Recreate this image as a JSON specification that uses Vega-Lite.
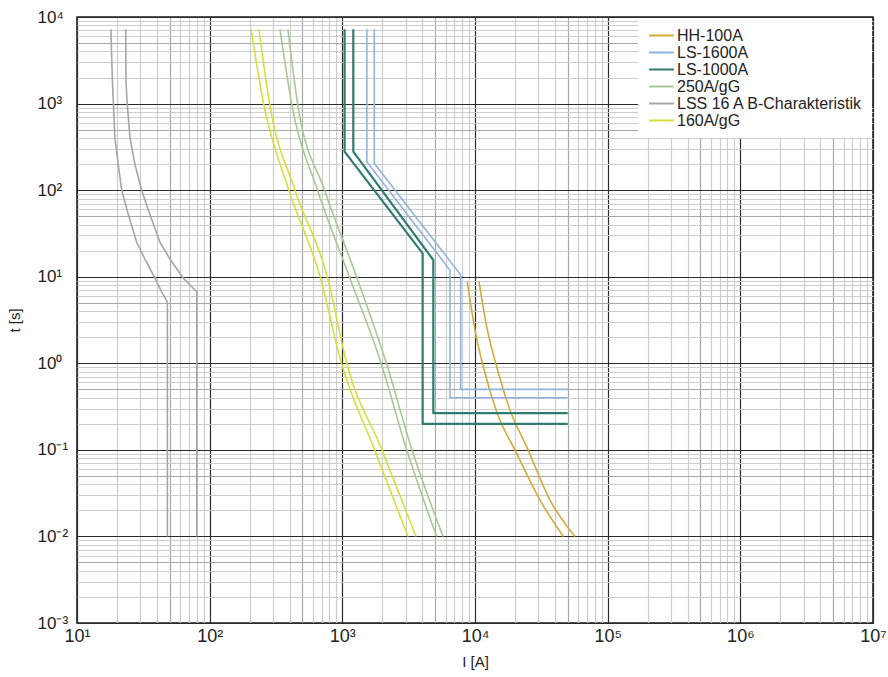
{
  "$schema": "https://vega.github.io/schema/vega-lite/v6.json",
  "width": 796,
  "height": 606,
  "autosize": {"type": "none"},
  "padding": {"left": 77, "top": 17, "right": 15, "bottom": 54},
  "background": "white",
  "config": {
    "view": {"stroke": "#1a1a1a", "strokeWidth": 1.5},
    "font": "Liberation Sans, Arial, sans-serif"
  },
  "data": {
    "values": [
      {"series": "HH-100A", "curve": "HH-a", "k": 1, "I": 8750, "t": 8.76},
      {"series": "HH-100A", "curve": "HH-a", "k": 2, "I": 10000, "t": 2.42},
      {"series": "HH-100A", "curve": "HH-a", "k": 3, "I": 11550, "t": 0.913},
      {"series": "HH-100A", "curve": "HH-a", "k": 4, "I": 14570, "t": 0.276},
      {"series": "HH-100A", "curve": "HH-a", "k": 5, "I": 20620, "t": 0.0912},
      {"series": "HH-100A", "curve": "HH-a", "k": 6, "I": 30900, "t": 0.0263},
      {"series": "HH-100A", "curve": "HH-a", "k": 7, "I": 46300, "t": 0.01},
      {"series": "HH-100A", "curve": "HH-b", "k": 1, "I": 10720, "t": 8.76},
      {"series": "HH-100A", "curve": "HH-b", "k": 2, "I": 12250, "t": 2.645},
      {"series": "HH-100A", "curve": "HH-b", "k": 3, "I": 14570, "t": 0.913},
      {"series": "HH-100A", "curve": "HH-b", "k": 4, "I": 18350, "t": 0.289},
      {"series": "HH-100A", "curve": "HH-b", "k": 5, "I": 24520, "t": 0.109},
      {"series": "HH-100A", "curve": "HH-b", "k": 6, "I": 36750, "t": 0.0263},
      {"series": "HH-100A", "curve": "HH-b", "k": 7, "I": 56700, "t": 0.01},

      {"series": "LS-1600A", "curve": "LS16-a", "k": 1, "I": 1530, "t": 7200},
      {"series": "LS-1600A", "curve": "LS16-a", "k": 2, "I": 1530, "t": 213},
      {"series": "LS-1600A", "curve": "LS16-a", "k": 3, "I": 6480, "t": 11.9},
      {"series": "LS-1600A", "curve": "LS16-a", "k": 4, "I": 6480, "t": 0.4},
      {"series": "LS-1600A", "curve": "LS16-a", "k": 5, "I": 50000, "t": 0.4},
      {"series": "LS-1600A", "curve": "LS16-b", "k": 1, "I": 1740, "t": 7200},
      {"series": "LS-1600A", "curve": "LS16-b", "k": 2, "I": 1740, "t": 204},
      {"series": "LS-1600A", "curve": "LS16-b", "k": 3, "I": 7800, "t": 10.5},
      {"series": "LS-1600A", "curve": "LS16-b", "k": 4, "I": 7800, "t": 0.5},
      {"series": "LS-1600A", "curve": "LS16-b", "k": 5, "I": 50000, "t": 0.5},

      {"series": "LS-1000A", "curve": "LS10-a", "k": 1, "I": 1040, "t": 7200},
      {"series": "LS-1000A", "curve": "LS10-a", "k": 2, "I": 1040, "t": 278},
      {"series": "LS-1000A", "curve": "LS10-a", "k": 3, "I": 4030, "t": 18.6},
      {"series": "LS-1000A", "curve": "LS10-a", "k": 4, "I": 4030, "t": 0.2},
      {"series": "LS-1000A", "curve": "LS10-a", "k": 5, "I": 50000, "t": 0.2},
      {"series": "LS-1000A", "curve": "LS10-b", "k": 1, "I": 1210, "t": 7200},
      {"series": "LS-1000A", "curve": "LS10-b", "k": 2, "I": 1210, "t": 278},
      {"series": "LS-1000A", "curve": "LS10-b", "k": 3, "I": 4850, "t": 15.6},
      {"series": "LS-1000A", "curve": "LS10-b", "k": 4, "I": 4850, "t": 0.265},
      {"series": "LS-1000A", "curve": "LS10-b", "k": 5, "I": 50000, "t": 0.265},

      {"series": "250A/gG", "curve": "G250-a", "k": 1, "I": 339, "t": 7200},
      {"series": "250A/gG", "curve": "G250-a", "k": 2, "I": 415, "t": 1000},
      {"series": "250A/gG", "curve": "G250-a", "k": 3, "I": 650, "t": 100},
      {"series": "250A/gG", "curve": "G250-a", "k": 4, "I": 1130, "t": 10},
      {"series": "250A/gG", "curve": "G250-a", "k": 5, "I": 1960, "t": 1},
      {"series": "250A/gG", "curve": "G250-a", "k": 6, "I": 3055, "t": 0.1},
      {"series": "250A/gG", "curve": "G250-a", "k": 7, "I": 5140, "t": 0.01},
      {"series": "250A/gG", "curve": "G250-b", "k": 1, "I": 389, "t": 7200},
      {"series": "250A/gG", "curve": "G250-b", "k": 2, "I": 460, "t": 1000},
      {"series": "250A/gG", "curve": "G250-b", "k": 3, "I": 735, "t": 100},
      {"series": "250A/gG", "curve": "G250-b", "k": 4, "I": 1280, "t": 10},
      {"series": "250A/gG", "curve": "G250-b", "k": 5, "I": 2150, "t": 1},
      {"series": "250A/gG", "curve": "G250-b", "k": 6, "I": 3350, "t": 0.1},
      {"series": "250A/gG", "curve": "G250-b", "k": 7, "I": 5740, "t": 0.01},

      {"series": "LSS 16 A B-Charakteristik", "curve": "LSS-a", "k": 1, "I": 18.0, "t": 7200},
      {"series": "LSS 16 A B-Charakteristik", "curve": "LSS-a", "k": 2, "I": 18.5, "t": 1790},
      {"series": "LSS 16 A B-Charakteristik", "curve": "LSS-a", "k": 3, "I": 18.8, "t": 1000},
      {"series": "LSS 16 A B-Charakteristik", "curve": "LSS-a", "k": 4, "I": 19.3, "t": 400},
      {"series": "LSS 16 A B-Charakteristik", "curve": "LSS-a", "k": 5, "I": 20.5, "t": 195},
      {"series": "LSS 16 A B-Charakteristik", "curve": "LSS-a", "k": 6, "I": 21.7, "t": 100},
      {"series": "LSS 16 A B-Charakteristik", "curve": "LSS-a", "k": 7, "I": 24.4, "t": 52},
      {"series": "LSS 16 A B-Charakteristik", "curve": "LSS-a", "k": 8, "I": 28.2, "t": 25},
      {"series": "LSS 16 A B-Charakteristik", "curve": "LSS-a", "k": 9, "I": 32.5, "t": 16},
      {"series": "LSS 16 A B-Charakteristik", "curve": "LSS-a", "k": 10, "I": 37.6, "t": 10.5},
      {"series": "LSS 16 A B-Charakteristik", "curve": "LSS-a", "k": 11, "I": 43.5, "t": 6.7},
      {"series": "LSS 16 A B-Charakteristik", "curve": "LSS-a", "k": 12, "I": 48, "t": 5.1},
      {"series": "LSS 16 A B-Charakteristik", "curve": "LSS-a", "k": 13, "I": 48, "t": 0.01},
      {"series": "LSS 16 A B-Charakteristik", "curve": "LSS-b", "k": 1, "I": 23.3, "t": 7200},
      {"series": "LSS 16 A B-Charakteristik", "curve": "LSS-b", "k": 2, "I": 23.4, "t": 1790},
      {"series": "LSS 16 A B-Charakteristik", "curve": "LSS-b", "k": 3, "I": 23.9, "t": 1000},
      {"series": "LSS 16 A B-Charakteristik", "curve": "LSS-b", "k": 4, "I": 25.1, "t": 400},
      {"series": "LSS 16 A B-Charakteristik", "curve": "LSS-b", "k": 5, "I": 27.4, "t": 195},
      {"series": "LSS 16 A B-Charakteristik", "curve": "LSS-b", "k": 6, "I": 30.7, "t": 100},
      {"series": "LSS 16 A B-Charakteristik", "curve": "LSS-b", "k": 7, "I": 35.5, "t": 52},
      {"series": "LSS 16 A B-Charakteristik", "curve": "LSS-b", "k": 8, "I": 42.2, "t": 25},
      {"series": "LSS 16 A B-Charakteristik", "curve": "LSS-b", "k": 9, "I": 50.2, "t": 16},
      {"series": "LSS 16 A B-Charakteristik", "curve": "LSS-b", "k": 10, "I": 63.3, "t": 9.6},
      {"series": "LSS 16 A B-Charakteristik", "curve": "LSS-b", "k": 11, "I": 80, "t": 6.7},
      {"series": "LSS 16 A B-Charakteristik", "curve": "LSS-b", "k": 12, "I": 80, "t": 0.01},

      {"series": "160A/gG", "curve": "G160-a", "k": 1, "I": 205, "t": 7200},
      {"series": "160A/gG", "curve": "G160-a", "k": 2, "I": 255, "t": 1000},
      {"series": "160A/gG", "curve": "G160-a", "k": 3, "I": 395, "t": 100},
      {"series": "160A/gG", "curve": "G160-a", "k": 4, "I": 680, "t": 10},
      {"series": "160A/gG", "curve": "G160-a", "k": 5, "I": 985, "t": 1},
      {"series": "160A/gG", "curve": "G160-a", "k": 6, "I": 1750, "t": 0.1},
      {"series": "160A/gG", "curve": "G160-a", "k": 7, "I": 3125, "t": 0.01},
      {"series": "160A/gG", "curve": "G160-b", "k": 1, "I": 235, "t": 7200},
      {"series": "160A/gG", "curve": "G160-b", "k": 2, "I": 283, "t": 1000},
      {"series": "160A/gG", "curve": "G160-b", "k": 3, "I": 440, "t": 100},
      {"series": "160A/gG", "curve": "G160-b", "k": 4, "I": 770, "t": 10},
      {"series": "160A/gG", "curve": "G160-b", "k": 5, "I": 1080, "t": 1},
      {"series": "160A/gG", "curve": "G160-b", "k": 6, "I": 1991, "t": 0.1},
      {"series": "160A/gG", "curve": "G160-b", "k": 7, "I": 3592, "t": 0.01}
    ]
  },
  "encoding": {
    "x": {
      "field": "I",
      "type": "quantitative",
      "scale": {"type": "log", "domain": [10, 10000000], "nice": false},
      "axis": {
        "title": "I [A]",
        "values": [10,20,30,40,50,60,70,80,90,100,200,300,400,500,600,700,800,900,1000,2000,3000,4000,5000,6000,7000,8000,9000,10000,20000,30000,40000,50000,60000,70000,80000,90000,100000,200000,300000,400000,500000,600000,700000,800000,900000,1000000,2000000,3000000,4000000,5000000,6000000,7000000,8000000,9000000,10000000],
        "grid": true,
        "gridColor": {"condition": [
          {"test": "abs(log(datum.value)/LN10 - round(log(datum.value)/LN10)) < 0.001", "value": "#2a2a2a"},
          {"test": "abs(log(datum.value)/LN10 - floor(log(datum.value)/LN10 + 0.000001) - 0.69897) < 0.001", "value": "#a8a8a8"}
        ], "value": "#cdcdcd"},
        "gridWidth": 1.2,
        "ticks": false,
        "domain": false,
        "labelOverlap": false,
        "labelFlush": false,
        "labelExpr": "abs(log(datum.value)/LN10 - round(log(datum.value)/LN10)) < 0.001 ? '10' + (round(log(datum.value)/LN10) < 0 ? '⁻' : '') + substring('⁰¹²³⁴⁵⁶⁷⁸⁹', abs(round(log(datum.value)/LN10)), abs(round(log(datum.value)/LN10)) + 1) : ''",
        "labelFontSize": 18,
        "labelColor": "#222222",
        "labelPadding": 4,
        "titleFontSize": 15,
        "titleFontWeight": "normal",
        "titleColor": "#222222",
        "titlePadding": 9
      }
    },
    "y": {
      "field": "t",
      "type": "quantitative",
      "scale": {"type": "log", "domain": [0.001, 10000], "nice": false},
      "axis": {
        "title": "t [s]",
        "values": [0.001,0.002,0.003,0.004,0.005,0.006,0.007,0.008,0.009,0.01,0.02,0.03,0.04,0.05,0.06,0.07,0.08,0.09,0.1,0.2,0.3,0.4,0.5,0.6,0.7,0.8,0.9,1,2,3,4,5,6,7,8,9,10,20,30,40,50,60,70,80,90,100,200,300,400,500,600,700,800,900,1000,2000,3000,4000,5000,6000,7000,8000,9000,10000],
        "grid": true,
        "gridColor": {"condition": [
          {"test": "abs(log(datum.value)/LN10 - round(log(datum.value)/LN10)) < 0.001", "value": "#2a2a2a"},
          {"test": "abs(log(datum.value)/LN10 - floor(log(datum.value)/LN10 + 0.000001) - 0.69897) < 0.001", "value": "#a8a8a8"}
        ], "value": "#cdcdcd"},
        "gridWidth": 1.2,
        "ticks": false,
        "domain": false,
        "labelOverlap": false,
        "labelFlush": false,
        "labelAlign": "left",
        "labelExpr": "abs(log(datum.value)/LN10 - round(log(datum.value)/LN10)) < 0.001 ? '10' + (round(log(datum.value)/LN10) < 0 ? '⁻' : '') + substring('⁰¹²³⁴⁵⁶⁷⁸⁹', abs(round(log(datum.value)/LN10)), abs(round(log(datum.value)/LN10)) + 1) : ''",
        "labelFontSize": 17,
        "labelColor": "#222222",
        "labelPadding": 40,
        "titleFontSize": 15,
        "titleFontWeight": "normal",
        "titleColor": "#222222",
        "titlePadding": 15
      }
    },
    "color": {
      "field": "series",
      "type": "nominal",
      "scale": {
        "domain": ["HH-100A", "LS-1600A", "LS-1000A", "250A/gG", "LSS 16 A B-Charakteristik", "160A/gG"],
        "range": ["#d4aa3c", "#93b3dc", "#2f7c70", "#a9c895", "#a6a6a6", "#d6e03a"]
      },
      "legend": {
        "title": null,
        "orient": "top-right",
        "offset": 1,
        "fillColor": "white",
        "padding": 9,
        "symbolType": "M-1.75,0H1.75",
        "symbolSize": 200,
        "symbolStrokeWidth": 2,
        "symbolOffset": 6,
        "labelFontSize": 16,
        "labelColor": "#222222",
        "labelLimit": 400,
        "labelOffset": 7,
        "rowPadding": -1.5
      }
    },
    "detail": {"field": "curve"},
    "order": {"field": "k", "type": "quantitative"},
    "strokeWidth": {"condition": {"test": "datum.series === 'LS-1000A'", "value": 2.2}, "value": 1.6}
  },
  "layer": [
    {
      "transform": [{"filter": "indexof(['HH-100A', '250A/gG', '160A/gG'], datum.series) >= 0"}],
      "mark": {"type": "line", "clip": true, "interpolate": "monotone"}
    },
    {
      "transform": [{"filter": "indexof(['HH-100A', '250A/gG', '160A/gG'], datum.series) < 0"}],
      "mark": {"type": "line", "clip": true, "strokeJoin": "round"}
    }
  ]
}
